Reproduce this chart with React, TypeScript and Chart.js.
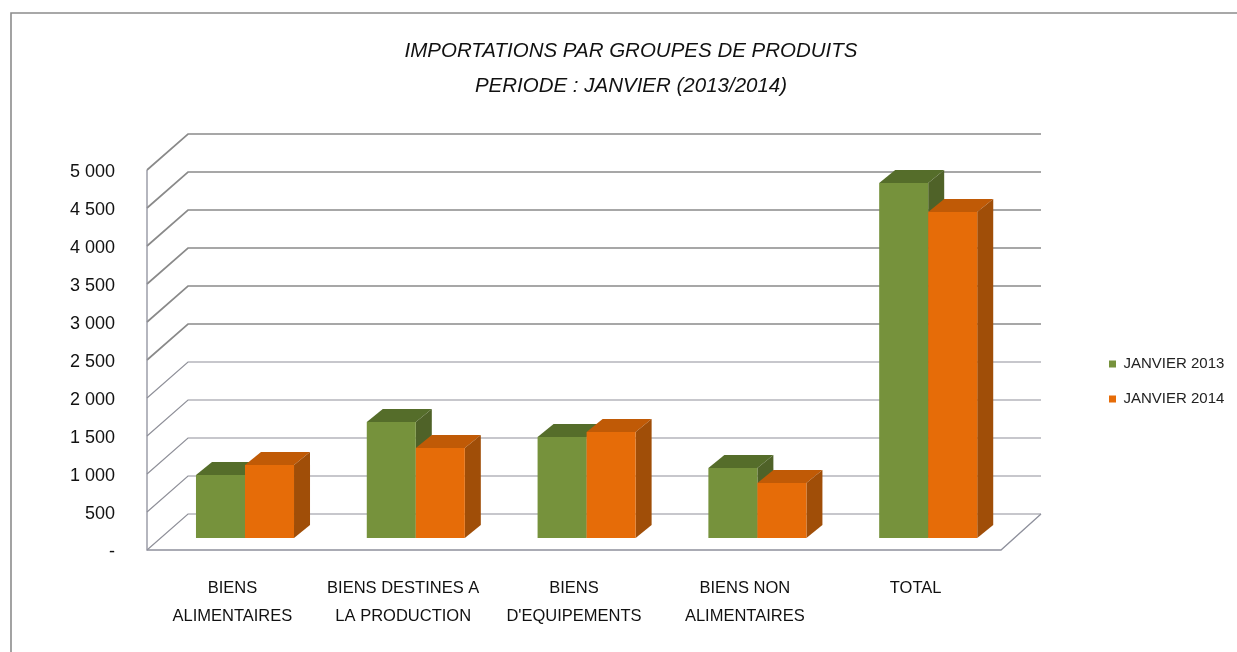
import React, { useEffect, useRef } from "react";
import { Chart, registerables } from "chart.js";

Chart.register(...registerables);

const categories: string[][] = [
  ["BIENS", "ALIMENTAIRES"],
  ["BIENS DESTINES A", "LA PRODUCTION"],
  ["BIENS", "D'EQUIPEMENTS"],
  ["BIENS NON", "ALIMENTAIRES"],
  ["TOTAL"],
];
const janvier2013 = [829, 1526, 1329, 921, 4671];
const janvier2014 = [961, 1184, 1395, 724, 4289];
const yTickLabels = ["-", "500", "1 000", "1 500", "2 000", "2 500", "3 000", "3 500", "4 000", "4 500", "5 000"];
const titleLines = ["IMPORTATIONS PAR GROUPES DE PRODUITS", "PERIODE : JANVIER (2013/2014)"];
const seriesNames = ["JANVIER 2013", "JANVIER 2014"];

const GREEN = { front: "#76923c", top: "#556d2a", side: "#4f6228" };
const ORANGE = { front: "#e66c08", top: "#c05a06", side: "#a04e08" };
const SHADES = [GREEN, ORANGE];

const WALL_DX = 41;
const WALL_DY = 36;
const BAR_DX = 12.6;
const BAR_DY = 12;
const DEPTH_X = 16;
const DEPTH_Y = 13;

const poly = (ctx: CanvasRenderingContext2D, pts: number[][], fill: string) => {
  ctx.beginPath();
  pts.forEach(([x, y], i) => (i ? ctx.lineTo(x, y) : ctx.moveTo(x, y)));
  ctx.closePath();
  ctx.fillStyle = fill;
  ctx.fill();
};

const scene = {
  id: "scene3d",
  afterLayout(chart: any) {
    const legend = chart.legend;
    legend.left = 1089;
    legend.right = 1237;
    legend.top = 336.5;
    legend.bottom = 652;
    chart.titleBlock.left += 130.5;
    chart.titleBlock.right += 130.5;
  },
  beforeDraw(chart: any) {
    const { ctx, width, height } = chart;
    ctx.save();
    ctx.strokeStyle = "#8c8c8c";
    ctx.lineWidth = 1.6;
    ctx.beginPath();
    ctx.moveTo(11, height);
    ctx.lineTo(11, 13);
    ctx.lineTo(width, 13);
    ctx.stroke();
    ctx.restore();
  },
  beforeDatasetsDraw(chart: any) {
    const { ctx, chartArea, scales } = chart;
    const { left, right, bottom, top } = chartArea;
    const backRight = right + WALL_DX - 1;
    ctx.save();
    scales.y.ticks.forEach((t: any) => {
      const y = scales.y.getPixelForValue(t.value);
      const heavy = t.value >= 2500;
      ctx.strokeStyle = heavy ? "#8a8a8a" : "#8f9099";
      ctx.lineWidth = heavy ? 1.7 : 1.2;
      ctx.beginPath();
      ctx.moveTo(left, y);
      ctx.lineTo(left + WALL_DX, y - WALL_DY);
      ctx.lineTo(backRight, y - WALL_DY);
      ctx.stroke();
    });
    ctx.strokeStyle = "#8e909c";
    ctx.lineWidth = 1.3;
    ctx.beginPath();
    ctx.moveTo(left, top);
    ctx.lineTo(left, bottom);
    ctx.lineTo(right, bottom);
    ctx.lineTo(backRight, bottom - WALL_DY);
    ctx.stroke();

    ctx.translate(BAR_DX, -BAR_DY);
    chart.data.datasets.forEach((_: any, di: number) => {
      const shade = SHADES[di];
      chart.getDatasetMeta(di).data.forEach((bar: any) => {
        const { x, y, base, width: w } = bar.getProps(["x", "y", "base", "width"], true);
        const l = x - w / 2;
        const r = x + w / 2;
        poly(ctx, [[l, y], [l + DEPTH_X, y - DEPTH_Y], [r + DEPTH_X, y - DEPTH_Y], [r, y]], shade.top);
        poly(ctx, [[r, y], [r + DEPTH_X, y - DEPTH_Y], [r + DEPTH_X, base - DEPTH_Y], [r, base]], shade.side);
        bar.draw(ctx, chartArea);
      });
    });
    ctx.restore();
    return false;
  },
};

export default function App() {
  const ref = useRef<HTMLCanvasElement>(null);
  useEffect(() => {
    const chart = new Chart(ref.current as HTMLCanvasElement, {
      type: "bar",
      data: {
        labels: categories,
        datasets: [
          { label: seriesNames[0], data: janvier2013, backgroundColor: GREEN.front, borderWidth: 0 },
          { label: seriesNames[1], data: janvier2014, backgroundColor: ORANGE.front, borderWidth: 0 },
        ],
      },
      options: {
        responsive: false,
        animation: false,
        devicePixelRatio: 1,
        layout: { padding: { left: 0, right: 236, top: 0, bottom: 0 } },
        datasets: { bar: { categoryPercentage: 0.574, barPercentage: 1 } },
        plugins: {
          tooltip: { enabled: false },
          title: {
            display: true,
            text: titleLines,
            color: "#111111",
            font: { family: "'Liberation Sans'", size: 20.5, style: "italic", weight: "normal", lineHeight: 35 / 20.5 },
            padding: { top: 33.5, bottom: 66.5 },
          },
          legend: {
            position: "chartArea",
            align: "start",
            labels: {
              boxWidth: 7,
              boxHeight: 7,
              padding: 20,
              color: "#222222",
              font: { family: "'Liberation Sans'", size: 15 },
            },
          },
        },
        scales: {
          x: {
            grid: { display: false, drawTicks: false },
            border: { display: false },
            afterFit: (s: any) => {
              s.height = 102;
            },
            ticks: {
              autoSkip: false,
              maxRotation: 0,
              padding: 24,
              color: "#111111",
              font: { family: "'Liberation Sans'", size: 16.5, lineHeight: 28 / 16.5 },
            },
          },
          y: {
            min: 0,
            max: 5000,
            grid: { display: false, drawTicks: false },
            border: { display: false },
            afterFit: (s: any) => {
              s.width = 147;
            },
            ticks: {
              stepSize: 500,
              padding: 32,
              labelOffset: 2,
              color: "#111111",
              font: { family: "'Liberation Sans'", size: 18 },
              callback: (_v: any, i: number) => yTickLabels[i],
            },
          },
        },
      },
      plugins: [scene],
    } as any);
    return () => chart.destroy();
  }, []);
  return (
    <div style={{ position: "absolute", left: 0, top: 0, width: 1237, height: 652, background: "#ffffff" }}>
      <canvas ref={ref} width={1237} height={652} style={{ display: "block" }} />
    </div>
  );
}
